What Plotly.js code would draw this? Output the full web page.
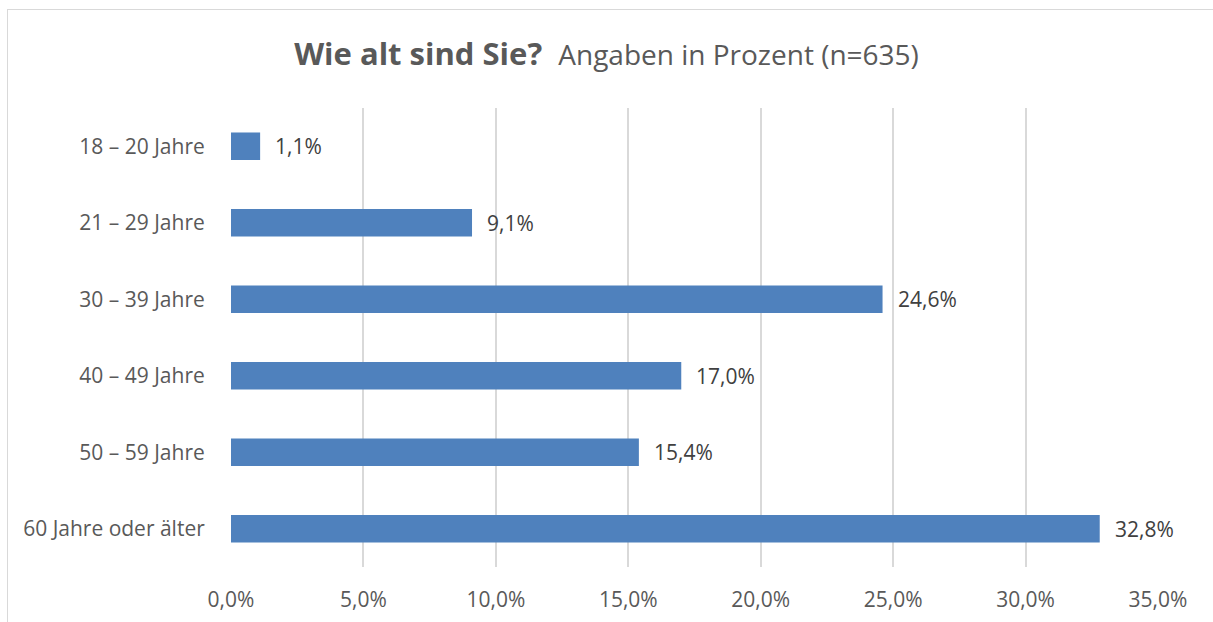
<!DOCTYPE html>
<html>
<head>
<meta charset="utf-8">
<script src="https://cdn.plot.ly/plotly-3.0.1.min.js"></script>
<style>
html,body{margin:0;padding:0;background:#fff;}
#wrap{position:relative;width:1213px;height:622px;overflow:hidden;}
#chart{position:absolute;left:0;top:0;width:1213px;height:622px;}
#frame{position:absolute;left:7px;top:9px;width:1300px;height:700px;border-top:1px solid #d9d9d9;border-left:1px solid #d9d9d9;pointer-events:none;}
</style>
</head>
<body>
<div id="wrap"><div id="chart"></div><div id="frame"></div></div>
<script>
const categories = ["18 – 20 Jahre","21 – 29 Jahre","30 – 39 Jahre","40 – 49 Jahre","50 – 59 Jahre","60 Jahre oder älter"];
const values = [1.1, 9.1, 24.6, 17.0, 15.4, 32.8];
const xTickVals = [0,5,10,15,20,25,30,35];
const xTickText = ["0,0%","5,0%","10,0%","15,0%","20,0%","25,0%","30,0%","35,0%"];
const titleBold = "Wie alt sind Sie?";
const titleRest = "Angaben in Prozent (n=635)";

const FONT = "'Open Sans', sans-serif";
const TXT = "#595959";

const trace = {
  type: "bar",
  orientation: "h",
  x: values,
  y: categories,
  marker: {color: "#4f81bd", line: {width: 0}},
  width: 0.36,
  hoverinfo: "none"
};

const annotations = values.map((v, i) => ({
  x: v, y: categories[i], xref: "x", yref: "y",
  text: v.toFixed(1).replace(".", ",") + "%",
  showarrow: false, xanchor: "left", yanchor: "middle", xshift: 13,
  font: {family: FONT, size: 21, color: "#404040"}
}));

const layout = {
  width: 1213, height: 622,
  paper_bgcolor: "rgba(0,0,0,0)", plot_bgcolor: "rgba(0,0,0,0)",
  margin: {l: 231, r: 55, t: 108, b: 55, pad: 0},
  font: {family: FONT, color: TXT, size: 21},
  title: {
    text: "<b>" + titleBold + "</b>  <span style='font-size:28px'>" + titleRest + "</span>",
    font: {family: FONT, size: 31, color: TXT},
    x: 0.5, xref: "container", xanchor: "center",
    y: 1 - 54/622, yref: "container", yanchor: "middle"
  },
  xaxis: {
    range: [0, 35], tickvals: xTickVals, ticktext: xTickText,
    showgrid: true, gridcolor: "#d9d9d9", gridwidth: 2,
    zeroline: false, showline: false,
    ticks: "outside", ticklen: 14, tickcolor: "rgba(0,0,0,0)",
    tickfont: {family: FONT, size: 21, color: TXT}, fixedrange: true
  },
  yaxis: {
    autorange: "reversed", type: "category",
    showgrid: false, zeroline: false, showline: false,
    ticks: "outside", ticklen: 21, tickcolor: "rgba(0,0,0,0)",
    tickfont: {family: FONT, size: 21, color: TXT}, fixedrange: true
  },
  annotations: annotations,
  showlegend: false,
  bargap: 0.64
};

Plotly.newPlot("chart", [trace], layout, {displayModeBar: false, staticPlot: true});
</script>
</body>
</html>
